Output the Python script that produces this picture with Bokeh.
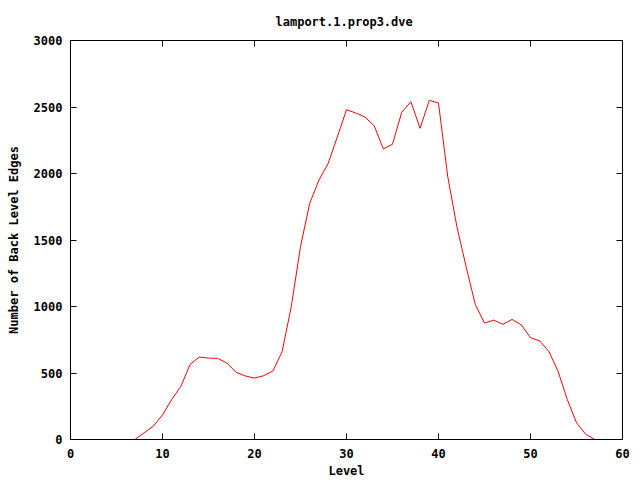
from bokeh.plotting import figure
from bokeh.models import LinearAxis, FixedTicker, Range1d, CustomLabelingPolicy
from bokeh.embed import file_html
from bokeh.resources import INLINE

# Data
levels = list(range(7, 58))
edges = [0, 50, 100, 185, 300, 400, 565, 620, 612, 610,
         575, 505, 478, 462, 480, 515, 660, 1000, 1450, 1775,
         1950, 2075, 2275, 2480, 2455, 2425, 2360, 2185, 2220, 2460,
         2540, 2340, 2550, 2530, 1980, 1600, 1300, 1015, 875, 898,
         866, 903, 862, 766, 741, 662, 512, 300, 126, 39,
         0]
x_ticks = [0, 10, 20, 30, 40, 50, 60]
y_ticks = [0, 500, 1000, 1500, 2000, 2500, 3000]
title_text = "lamport.1.prop3.dve"
x_label = "Level"
y_label = "Number of Back Level Edges"

FONT = "DejaVu Sans Mono"
FS = "12px"

p = figure(width=640, height=480, output_backend="svg", toolbar_location=None,
           x_range=Range1d(0, 60), y_range=Range1d(0, 3000),
           min_border_left=70, min_border_right=18,
           min_border_top=40, min_border_bottom=40,
           x_axis_location=None, y_axis_location=None)
p.grid.visible = False
p.outline_line_color = "black"
p.outline_line_width = 1
p.background_fill_color = "white"
p.border_fill_color = "white"

p.title.text = title_text
p.title.text_font = FONT
p.title.text_font_style = "bold"
p.title.text_font_size = FS
p.title.text_color = "black"
p.title.align = "left"
p.title.offset = 205
p.title.standoff = 23


def make_axis(show_labels):
    ax = LinearAxis()
    ax.axis_line_color = "black"
    ax.major_tick_line_color = "black"
    ax.major_tick_in = 6
    ax.major_tick_out = 0
    ax.minor_tick_line_color = None
    ax.major_label_text_font = FONT
    ax.major_label_text_font_style = "bold"
    ax.major_label_text_font_size = FS
    ax.major_label_text_color = "black"
    ax.axis_label_text_font = FONT
    ax.axis_label_text_font_style = "bold"
    ax.axis_label_text_font_size = FS
    ax.axis_label_text_color = "black"
    if not show_labels:
        ax.major_label_policy = CustomLabelingPolicy(code="return []")
        ax.major_label_text_font_size = "0px"
        ax.major_label_standoff = 0
    return ax


bottom = make_axis(True)
bottom.ticker = FixedTicker(ticks=x_ticks)
bottom.major_label_standoff = 9
bottom.axis_label = x_label
bottom.axis_label_standoff = 3
left = make_axis(True)
left.ticker = FixedTicker(ticks=y_ticks)
left.major_label_standoff = 8
left.axis_label = y_label
left.axis_label_standoff = 10
top = make_axis(False)
top.ticker = FixedTicker(ticks=x_ticks)
right = make_axis(False)
right.ticker = FixedTicker(ticks=y_ticks)

p.add_layout(bottom, "below")
p.add_layout(left, "left")
p.add_layout(top, "above")
p.add_layout(right, "right")

p.line(levels, edges, line_color="#ff0000", line_width=1)

open("out.html", "w").write(file_html(p, INLINE))
